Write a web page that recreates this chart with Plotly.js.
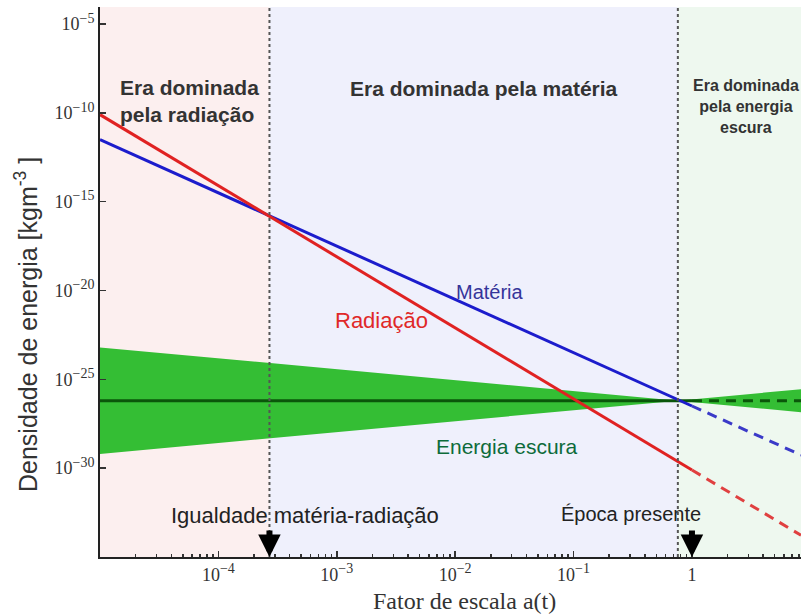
<!DOCTYPE html>
<html><head><meta charset="utf-8">
<script src="https://cdn.plot.ly/plotly-3.0.1.min.js"></script>
<style>html,body{margin:0;padding:0;background:#fff}#chart{width:801px;height:616px}</style>
</head><body><div id="chart"></div>
<script>
// Key scale factors a(t)
const aStart = 1e-5;
const aEq = 2.7e-4;      // matter-radiation equality
const aLambda = 0.76;    // matter / dark energy equality
const aNow = 1;          // present epoch
const aEnd = 8.34;

// Radiation density (kg m^-3)
const radA = [1e-5, 1];
const radRho = [7.94e-11, 7.94e-31];
const radFutA = [1, 8.34];
const radFutRho = [7.94e-31, 1.66e-34];

// Matter density
const matA = [1e-5, 1];
const matRho = [3.16e-12, 3.16e-27];
const matFutA = [1, 8.34];
const matFutRho = [3.16e-27, 5.5e-30];

// Dark energy density
const deA = [1e-5, 1];
const deRho = [6.31e-27, 6.31e-27];
const deFutA = [1, 8.34];
const deFutRho = [6.31e-27, 6.31e-27];

// Dark energy uncertainty band
const bandA = [1e-5, 0.76, 8.34];
const bandUpper = [6.3e-24, 6.31e-27, 2.8e-26];
const bandLower = [6.3e-30, 6.31e-27, 1.41e-27];

// Ticks
const xTickVals = [1e-4, 1e-3, 1e-2, 1e-1, 1];
const xTickExp = ['−4', '−3', '−2', '−1', ''];
const yTickVals = [1e-5, 1e-10, 1e-15, 1e-20, 1e-25, 1e-30];
const yTickExp = ['−5', '−10', '−15', '−20', '−25', '−30'];
const pow = e => e === '' ? '1' : '10<sup><span style="font-size:14px">' + e + '</span></sup>';

const L = 100, T = 7, W = 701, H = 550;
const px = x => (x - L) / W;
const py = y => (T + H - y) / H;

const traces = [
  { x: bandA.concat(bandA.slice().reverse()), y: bandUpper.concat(bandLower.slice().reverse()),
    mode: 'lines', fill: 'toself', fillcolor: 'rgb(52,190,52)', line: { width: 0 }, hoverinfo: 'skip' },
  { x: deA, y: deRho, mode: 'lines', line: { color: '#0a560a', width: 3 } },
  { x: deFutA, y: deFutRho, mode: 'lines', line: { color: '#0a560a', width: 3, dash: '10px,7px' } },
  { x: matA, y: matRho, mode: 'lines', line: { color: '#1c1ccc', width: 3 } },
  { x: matFutA, y: matFutRho, mode: 'lines', line: { color: '#3a3ac8', width: 3, dash: '10px,7px' } },
  { x: radA, y: radRho, mode: 'lines', line: { color: '#e02222', width: 3 } },
  { x: radFutA, y: radFutRho, mode: 'lines', line: { color: '#e04040', width: 3, dash: '10px,7px' } }
];

const sans = 'Liberation Sans, Arial, sans-serif';
const serif = 'Liberation Serif, Times New Roman, serif';

function label(text, x, y, size, color, extra) {
  return Object.assign({ text: text, xref: 'paper', yref: 'paper', x: px(x), y: py(y),
    xanchor: 'center', yanchor: 'middle', showarrow: false,
    font: { family: sans, size: size, color: color } }, extra || {});
}

const layout = {
  width: 801, height: 616,
  margin: { l: L, r: 0, t: T, b: 616 - T - H },
  paper_bgcolor: '#ffffff', plot_bgcolor: '#ffffff',
  showlegend: false,
  xaxis: {
    type: 'log', range: [-5, 0.921], showgrid: false, zeroline: false,
    showline: true, linecolor: '#222', linewidth: 2,
    ticks: 'inside', ticklen: 6, tickwidth: 1.5, tickcolor: '#333',
    tickmode: 'array', tickvals: xTickVals, ticktext: xTickExp.map(pow),
    tickfont: { family: serif, size: 18, color: '#333' },
    minor: { ticks: 'inside', ticklen: 3, tickcolor: '#333', dtick: 'D1', showgrid: false }
  },
  yaxis: {
    type: 'log', range: [-35, -4.04], showgrid: false, zeroline: false,
    showline: true, linecolor: '#222', linewidth: 2,
    ticks: 'inside', ticklen: 6, tickwidth: 1.5, tickcolor: '#333',
    tickmode: 'array', tickvals: yTickVals, ticktext: yTickExp.map(pow),
    tickfont: { family: serif, size: 18, color: '#333' }
  },
  shapes: [
    { type: 'rect', xref: 'x', yref: 'paper', x0: aStart, x1: aEq, y0: 0, y1: 1, fillcolor: '#fcefef', line: { width: 0 }, layer: 'below' },
    { type: 'rect', xref: 'x', yref: 'paper', x0: aEq, x1: aLambda, y0: 0, y1: 1, fillcolor: '#eff0fc', line: { width: 0 }, layer: 'below' },
    { type: 'rect', xref: 'x', yref: 'paper', x0: aLambda, x1: aEnd, y0: 0, y1: 1, fillcolor: '#eef8ef', line: { width: 0 }, layer: 'below' },
    { type: 'line', xref: 'x', yref: 'paper', x0: aEq, x1: aEq, y0: 0, y1: 1, line: { color: '#555', width: 2, dash: 'dot' } },
    { type: 'line', xref: 'x', yref: 'paper', x0: aLambda, x1: aLambda, y0: 0, y1: 1, line: { color: '#555', width: 2, dash: 'dot' } }
  ],
  annotations: [
    label('<b>Era dominada<br>pela radiação</b>', 118, 101, 21, '#333', { xanchor: 'left', align: 'left' }),
    label('<b>Era dominada pela matéria</b>', 484, 89, 21, '#333'),
    label('<b>Era dominada<br>pela energia<br>escura</b>', 746, 106, 16, '#333', { align: 'center' }),
    label('Matéria', 490, 292, 20, '#35359a'),
    label('Radiação', 381, 320, 22, '#e02828'),
    label('Energia escura', 507, 446, 21, '#0d6b3a'),
    label('Igualdade matéria-radiação', 304.5, 515, 22, '#222'),
    label('Época presente', 631, 514, 20, '#222'),
    { text: '', xref: 'x', yref: 'paper', x: Math.log10(aEq), y: 0, ax: 0, ay: -28, showarrow: true, arrowhead: 2, arrowwidth: 6, arrowsize: 0.75, arrowcolor: '#000', standoff: 0 },
    { text: '', xref: 'x', yref: 'paper', x: Math.log10(aNow), y: 0, ax: 0, ay: -28, showarrow: true, arrowhead: 2, arrowwidth: 6, arrowsize: 0.75, arrowcolor: '#000', standoff: 0 },
    label('Densidade de energia [kgm<sup>-3</sup> ]', 26, 325, 25, '#333', { textangle: -90 }),
    label('Fator de escala a(t)', 464, 601, 24, '#333', { font: { family: serif, size: 24, color: '#333' } })
  ]
};

Plotly.newPlot('chart', traces, layout, { staticPlot: true, displayModeBar: false });
</script></body></html>
